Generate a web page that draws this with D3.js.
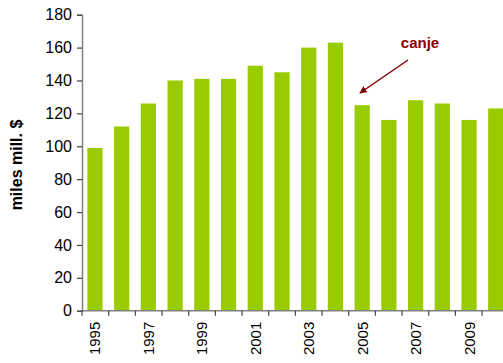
<!DOCTYPE html>
<html>
<head>
<meta charset="utf-8">
<script src="https://cdn.jsdelivr.net/npm/d3@7"></script>
<style>
  body { margin: 0; background: #fff; }
  svg { display: block; font-family: Arial, "Liberation Sans", sans-serif; }
</style>
</head>
<body>
<svg id="chart" width="503" height="363"></svg>
<script>
// data
const years = [1995, 1996, 1997, 1998, 1999, 2000, 2001, 2002, 2003, 2004, 2005, 2006, 2007, 2008, 2009, 2010];
const values = [99, 112, 126, 140, 141, 141, 149, 145, 160, 163, 125, 116, 128, 126, 116, 123];
const yTicks = [0, 20, 40, 60, 80, 100, 120, 140, 160, 180];
const yearLabels = [1995, 1997, 1999, 2001, 2003, 2005, 2007, 2009];

const svg = d3.select("#chart");
const plotLeft = 82, plotTop = 14.7, plotBottom = 310.7;
const step = 26.67;

// x band scale runs past the right edge, like the cropped original
let xscale = d3.scaleBand()
	.domain(years)
	.range([plotLeft, plotLeft + step * years.length])
	.paddingInner(0.43)
	.paddingOuter(0.2);

let yscale = d3.scaleLinear()
	.domain([0, 180])
	.range([plotBottom, plotTop]);

// bars
svg.append("g")
	.selectAll("rect")
	.data(years)
	.join("rect")
	.attr("x", (d) => xscale(d))
	.attr("y", (d, i) => yscale(values[i]))
	.attr("width", xscale.bandwidth())
	.attr("height", (d, i) => plotBottom - yscale(values[i]))
	.attr("fill", "#99cc00");

// y axis
let yAxis = svg.append("g")
	.attr("transform", "translate(" + plotLeft + ",0)")
	.call(d3.axisLeft(yscale).tickValues(yTicks).tickSize(5).tickPadding(5));
yAxis.selectAll("text").style("font-size", "16px").attr("fill", "#000");
yAxis.select(".domain").attr("stroke", "#808080").attr("stroke-width", 1.5);
yAxis.selectAll(".tick line").attr("stroke", "#404040").attr("stroke-width", 1.2);

// x axis: ticks on band edges
let edge = d3.scaleLinear().domain([0, years.length]).range([plotLeft, plotLeft + step * years.length]);
let xAxis = svg.append("g").attr("transform", "translate(0," + plotBottom + ")");
xAxis.append("line")
	.attr("x1", plotLeft).attr("x2", 503)
	.attr("stroke", "#808080").attr("stroke-width", 1.5);
xAxis.selectAll(".tk")
	.data(d3.range(0, years.length + 1))
	.join("line")
	.attr("class", "tk")
	.attr("x1", (d) => edge(d)).attr("x2", (d) => edge(d))
	.attr("y1", 0).attr("y2", 5)
	.attr("stroke", "#404040").attr("stroke-width", 1.2);
xAxis.selectAll("text")
	.data(yearLabels)
	.join("text")
	.attr("transform", (d) => "translate(" + (xscale(d) + xscale.bandwidth() / 2 + 5.5) + ",11) rotate(-90)")
	.style("text-anchor", "end")
	.style("font-size", "15px")
	.attr("fill", "#000")
	.text((d) => d);

// y label
svg.append("text")
	.attr("transform", "translate(22," + 165 + ") rotate(-90)")
	.style("text-anchor", "middle")
	.style("font-size", "16px")
	.style("font-weight", "bold")
	.attr("fill", "#000")
	.text("miles mill. $");

// annotation
svg.append("defs").append("marker")
	.attr("id", "arrow")
	.attr("viewBox", "0 0 10 10")
	.attr("refX", 9).attr("refY", 5)
	.attr("markerWidth", 5).attr("markerHeight", 5)
	.attr("orient", "auto")
	.append("path")
	.attr("d", "M0,0 L10,5 L0,10 z")
	.attr("fill", "#800000");

svg.append("line")
	.attr("x1", 408).attr("y1", 60)
	.attr("x2", 360).attr("y2", 93)
	.attr("stroke", "#800000").attr("stroke-width", 1.5)
	.attr("marker-end", "url(#arrow)");

svg.append("text")
	.attr("x", 420).attr("y", 48)
	.style("text-anchor", "middle")
	.style("font-size", "15px")
	.style("font-weight", "bold")
	.attr("fill", "#8b0000")
	.text("canje");
</script>
</body>
</html>
